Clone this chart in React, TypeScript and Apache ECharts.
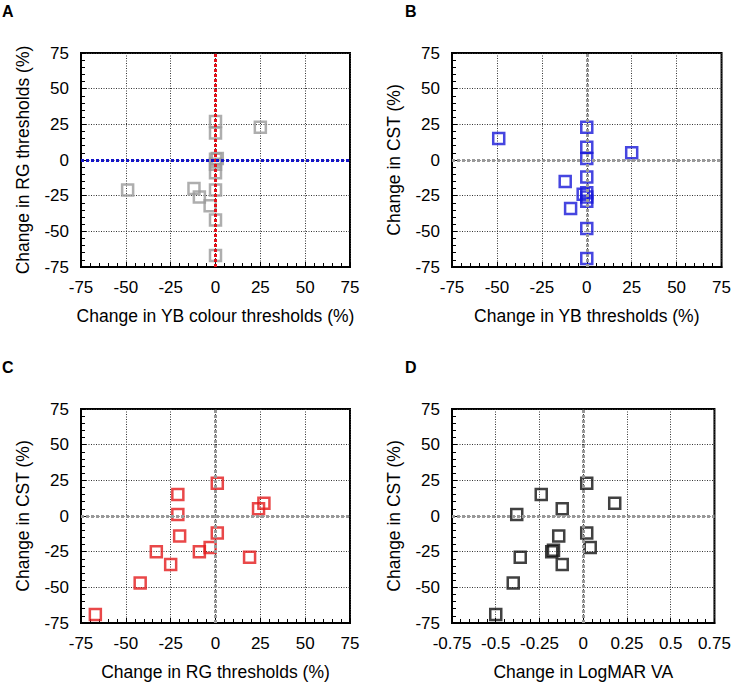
import React, { useEffect, useRef } from "react";
import * as echarts from "echarts";

// Axis ranges / tick labels
const PCT_MIN = -75;
const PCT_MAX = 75;
const PCT_STEP = 25;
const VA_MIN = -0.75;
const VA_MAX = 0.75;
const VA_STEP = 0.25;

// Panel A: change in YB colour thresholds (x) vs change in RG thresholds (y)
const panelA_YB = [0, 0, 25, 1, 0, 0, -49, -12, -9, -3, 0, 0, 0, 0];
const panelA_RG = [27, 19, 23, 1, -3, -9, -21, -20, -26, -32, -21, -42, -67, 0.5];

// Panel B: change in YB thresholds (x) vs change in CST (y)
const panelB_YB = [0, -49, 0, -12, 0, 0, 0, -2, -9, 0, 0, 0, 25, 0];
const panelB_CST = [23, 15, 1, -15, -12, -23, -26, -24, -34, -48, -69, -29, 5, 9];

// Panel C: change in RG thresholds (x) vs change in CST (y)
const panelC_RG = [1, -21, -21, -20, 1, -3, -9, -33, -25, -42, -67, 19, 24, 27];
const panelC_CST = [23, 15, 1, -14, -12, -22, -25, -25, -34, -47, -69, -29, 5, 9];

// Panel D: change in LogMAR VA (x) vs change in CST (y)
const panelD_VA = [0.02, -0.24, -0.38, -0.14, 0.02, 0.04, -0.18, -0.17, -0.12, -0.4, -0.5, -0.36, -0.12, 0.18];
const panelD_CST = [23, 15, 1, -14, -12, -22, -25, -24, -34, -47, -69, -29, 5, 9];

const FONT = '"Liberation Sans", Arial, sans-serif';

const zip = (xs: number[], ys: number[]) => xs.map((x, i) => [x, ys[i]]);

const grids = [
  { left: 81, top: 53, width: 269, height: 214 },
  { left: 452, top: 53, width: 270, height: 214 },
  { left: 81, top: 409, width: 269, height: 214 },
  { left: 452, top: 409, width: 270, height: 214 },
];

function axisBase(i: number, min: number, max: number, step: number, name: string, nameGap: number) {
  return {
    gridIndex: i,
    type: "value",
    min,
    max,
    interval: step,
    name,
    nameLocation: "middle",
    nameGap,
    nameTextStyle: { fontSize: 17.5, color: "#000", fontFamily: FONT },
    axisLine: { show: true, onZero: false, lineStyle: { color: "#000", width: 2 } },
    axisTick: { show: true, inside: true, length: 5, lineStyle: { color: "#000", width: 1 } },
    minorTick: { show: true, splitNumber: 5, length: 4, lineStyle: { color: "#000", width: 1 } },
    splitLine: { show: true, lineStyle: { color: "#333", type: [1, 1.5], width: 1 } },
    axisLabel: {
      fontSize: 17,
      color: "#000",
      margin: 12,
      fontFamily: FONT,
      showMinLabel: true,
      showMaxLabel: true,
    },
  };
}

function zeroLines(vColor: string, hColor: string) {
  return {
    silent: true,
    symbol: "none",
    label: { show: false },
    animation: false,
    data: [
      { xAxis: 0, lineStyle: { color: vColor, width: 3, type: [3, 2], cap: "butt" } },
      { yAxis: 0, lineStyle: { color: hColor, width: 3, type: [3, 2], cap: "butt" } },
    ],
  };
}

function scatter(i: number, data: number[][], color: string, lines: any) {
  return {
    type: "scatter",
    xAxisIndex: i,
    yAxisIndex: i,
    data,
    symbol: "rect",
    symbolSize: 11,
    itemStyle: { color: "rgba(0,0,0,0)", borderColor: color, borderWidth: 2.5 },
    markLine: lines,
    z: 3,
  };
}

export default function App() {
  const ref = useRef<HTMLDivElement>(null);
  useEffect(() => {
    if (!ref.current) return;
    const chart = echarts.init(ref.current, null, { renderer: "svg" });
    const gray = "#999999";
    const option: any = {
      animation: false,
      backgroundColor: "#fff",
      grid: grids.map((g) => ({ ...g, show: true, borderColor: "#000", borderWidth: 2, backgroundColor: "transparent" })),
      xAxis: [
        axisBase(0, PCT_MIN, PCT_MAX, PCT_STEP, "Change in YB colour thresholds (%)", 40),
        axisBase(1, PCT_MIN, PCT_MAX, PCT_STEP, "Change in YB thresholds (%)", 40),
        axisBase(2, PCT_MIN, PCT_MAX, PCT_STEP, "Change in RG thresholds (%)", 40),
        axisBase(3, VA_MIN, VA_MAX, VA_STEP, "Change in LogMAR VA", 40),
      ],
      yAxis: [
        axisBase(0, PCT_MIN, PCT_MAX, PCT_STEP, "Change in RG thresholds (%)", 49),
        axisBase(1, PCT_MIN, PCT_MAX, PCT_STEP, "Change in CST (%)", 49),
        axisBase(2, PCT_MIN, PCT_MAX, PCT_STEP, "Change in CST (%)", 49),
        axisBase(3, PCT_MIN, PCT_MAX, PCT_STEP, "Change in CST (%)", 49),
      ],
      series: [
        scatter(0, zip(panelA_YB, panelA_RG), "#9a9a9a", zeroLines("#e3121b", "#1414c8")),
        scatter(1, zip(panelB_YB, panelB_CST), "#1818d8", zeroLines(gray, gray)),
        scatter(2, zip(panelC_RG, panelC_CST), "#e41a1c", zeroLines(gray, gray)),
        scatter(3, zip(panelD_VA, panelD_CST), "#111111", zeroLines(gray, gray)),
      ],
      graphic: [
        { type: "text", left: 2, top: 3, style: { text: "A", font: `bold 16px ${FONT}`, fill: "#000" } },
        { type: "text", left: 405, top: 3, style: { text: "B", font: `bold 16px ${FONT}`, fill: "#000" } },
        { type: "text", left: 2, top: 359, style: { text: "C", font: `bold 16px ${FONT}`, fill: "#000" } },
        { type: "text", left: 405, top: 359, style: { text: "D", font: `bold 16px ${FONT}`, fill: "#000" } },
      ],
    };
    chart.setOption(option);
    return () => chart.dispose();
  }, []);
  return (
    <div
      ref={ref}
      style={{ position: "fixed", left: 0, top: 0, width: 734, height: 683, background: "#fff" }}
    />
  );
}
